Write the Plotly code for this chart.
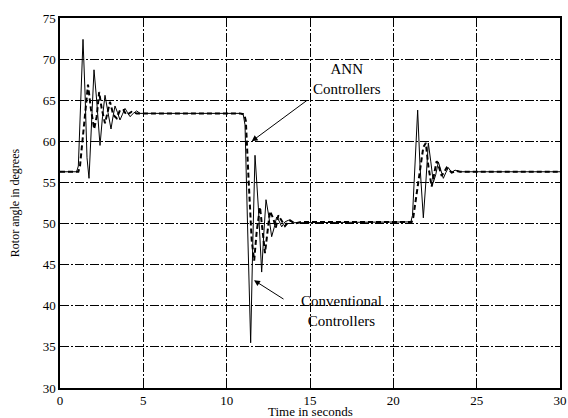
#rotor angle response: conventional vs ANN controllers
import plotly.graph_objects as go

#conventional controllers (solid line)
conv_t = [0, 1.0, 1.1, 1.25, 1.38, 1.5, 1.62, 1.74, 1.88, 2.04, 2.2, 2.4, 2.55, 2.7, 2.88, 3.06,
          3.18, 3.3, 3.45, 3.6, 3.75, 3.9, 4.05, 4.2, 4.4, 4.6, 4.8, 5.2, 10.8, 11.0, 11.1, 11.25,
          11.44, 11.56, 11.7, 11.9, 12.1, 12.22, 12.36, 12.52, 12.7, 12.85, 13.0, 13.15, 13.3,
          13.5, 13.7, 14.0, 21.05, 21.15, 21.3, 21.46, 21.6, 21.8, 21.95, 22.1, 22.25, 22.4,
          22.55, 22.7, 22.85, 23.0, 23.15, 23.3, 23.5, 23.7, 24.0, 30]
conv_deg = [56.3, 56.3, 57, 66, 72.4, 66, 58, 55.5, 62, 68.7, 65, 59.5, 63, 65.6, 63.5, 61.5,
            63, 64.3, 63.5, 62.6, 63.3, 64.0, 63.5, 63.0, 63.4, 63.7, 63.4, 63.4, 63.4, 63.2, 62, 50,
            35.5, 47, 58.3, 52, 44.1, 48.5, 52.9, 51, 48.4, 49.5, 50.8, 50.3, 49.6,
            50.2, 50.4, 50.1, 50.2, 51, 58, 63.8, 57, 50.7, 55, 59.8, 57.5, 55.0,
            56, 57.5, 56.5, 55.5, 56.2, 56.8, 56.2, 56.5, 56.3, 56.3]

#ANN controllers (dashed line)
ann_t = [0, 1.1, 1.2, 1.45, 1.68, 1.85, 2.05, 2.2, 2.35, 2.5, 2.7, 2.85, 3.0, 3.2, 3.4, 3.6,
         3.8, 4.0, 4.3, 4.6, 5.0, 10.8, 11.05, 11.15, 11.3, 11.5, 11.65, 11.8, 12.0, 12.15,
         12.3, 12.45, 12.6, 12.8, 12.95, 13.1, 13.3, 13.5, 13.8, 14.1, 14.5, 21.1, 21.2, 21.5,
         21.8, 21.95, 22.1, 22.3, 22.45, 22.6, 22.75, 22.9, 23.05, 23.2, 23.5, 23.8, 24.0, 30]
ann_deg = [56.3, 56.3, 57, 62, 66.9, 64, 61.5, 63, 66, 64, 62.2, 63.5, 64.8, 63.2, 62.8, 63.8,
           63.8, 63.2, 63.6, 63.4, 63.4, 63.4, 63.3, 62.5, 56, 48, 45.5, 49, 52, 49,
           46.4, 49, 51.5, 50.6, 49.5, 51, 50.3, 49.7, 50.4, 50.0, 50.2, 50.2, 50.8, 55,
           59.3, 59.8, 57, 54.5, 56, 57.6, 56.8, 55.8, 56.3, 56.8, 56.2, 56.4, 56.3, 56.3]

x_ticks = [0, 5, 10, 15, 20, 25, 30]
y_ticks = [30, 35, 40, 45, 50, 55, 60, 65, 70, 75]

serif = 'Liberation Serif'

fig = go.Figure()
fig.add_trace(go.Scatter(x=conv_t, y=conv_deg, mode='lines', name='Conventional',
                         line=dict(color='black', width=1)))
fig.add_trace(go.Scatter(x=ann_t, y=ann_deg, mode='lines', name='ANN',
                         line=dict(color='black', width=2, dash='5px,3px')))

#labels and arrows
fig.add_annotation(x=17.2, y=67.6, text='ANN<br>Controllers', showarrow=False,
                   font=dict(family=serif, size=15, color='black'), align='center')
fig.add_annotation(x=11.5, y=60.0, ax=14.9, ay=65.1, axref='x', ayref='y', text='',
                   showarrow=True, arrowhead=2, arrowsize=1.2, arrowwidth=1, arrowcolor='black')
fig.add_annotation(x=16.9, y=39.4, text='Conventional<br>Controllers', showarrow=False,
                   font=dict(family=serif, size=15, color='black'), align='center')
fig.add_annotation(x=11.64, y=43.1, ax=13.5, ay=40.7, axref='x', ayref='y', text='',
                   showarrow=True, arrowhead=2, arrowsize=1.2, arrowwidth=1, arrowcolor='black')

#x title placed by hand so it fits under the tick labels
fig.add_annotation(x=0.5, y=-0.064, xref='paper', yref='paper', text='Time in seconds',
                   showarrow=False, yanchor='middle',
                   font=dict(family=serif, size=13, color='black'))

axis_style = dict(showline=True, linecolor='black', linewidth=1.5, mirror='ticks',
                  ticks='inside', ticklen=4, tickcolor='black',
                  showgrid=True, gridcolor='black', gridwidth=1, griddash='9px,2px,2px,2px',
                  zeroline=False, tickfont=dict(family=serif, size=13, color='black'))

fig.update_xaxes(range=[0, 30], tickvals=x_ticks, automargin=False,
                 ticklabeloverflow='allow', **axis_style)
fig.update_yaxes(range=[30, 75], tickvals=y_ticks, automargin=False,
                 title=dict(text='Rotor angle in degrees', standoff=20,
                            font=dict(family=serif, size=12, color='black')), **axis_style)

fig.update_layout(width=568, height=418, showlegend=False,
                  margin=dict(l=60, r=8, t=18, b=30),
                  plot_bgcolor='white', paper_bgcolor='white')

#drop the page's default body margin so the figure fills the window exactly
fig.write_html("out.html", config={'displayModeBar': False},
               post_script="document.body.style.margin='0';document.body.style.overflow='hidden';")
